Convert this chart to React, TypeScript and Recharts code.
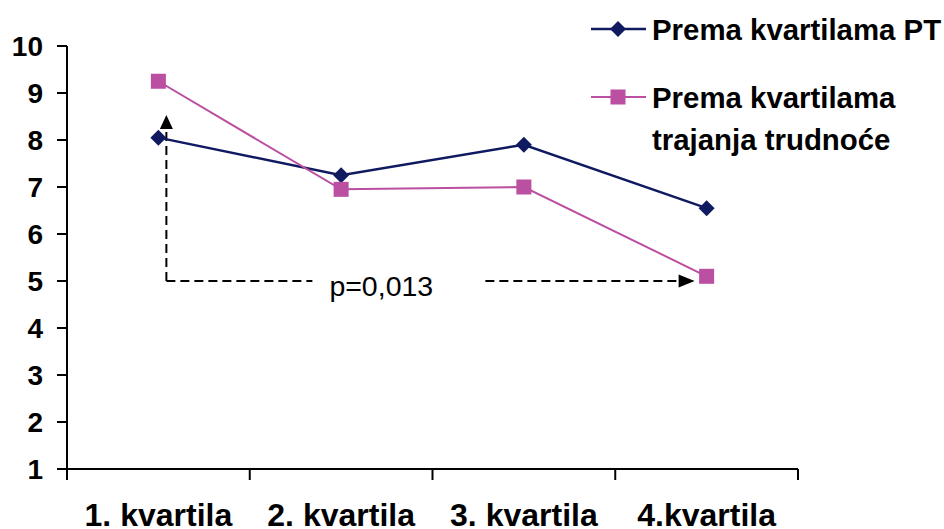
import React from 'react';
import { LineChart, Line, XAxis, YAxis, Legend, ReferenceLine } from 'recharts';

const categories = ['1. kvartila', '2. kvartila', '3. kvartila', '4.kvartila'];
const seriesPT = [8.05, 7.25, 7.9, 6.55];
const seriesTrajanje = [9.25, 6.95, 7.0, 5.1];
const yTicks = [1, 2, 3, 4, 5, 6, 7, 8, 9, 10];
const seriesNames = ['Prema kvartilama PT', 'Prema kvartilama trajanja trudnoće'];
const pLabel = 'p=0,013';

const data = categories.map((c, i) => ({ cat: c, pt: seriesPT[i], tr: seriesTrajanje[i] }));

const NAVY = '#101a60';
const PINK = '#bb4fa2';
const FONT = '"Liberation Sans", Arial, Helvetica, sans-serif';

const Diamond = (props: any) => {
  const { cx, cy } = props;
  if (cx == null || cy == null) return null;
  const s = 8;
  return <polygon points={`${cx},${cy - s} ${cx + s},${cy} ${cx},${cy + s} ${cx - s},${cy}`} fill={NAVY} />;
};

const Square = (props: any) => {
  const { cx, cy } = props;
  if (cx == null || cy == null) return null;
  const s = 7.5;
  return <rect x={cx - s} y={cy - s} width={2 * s} height={2 * s} fill={PINK} />;
};

const XTick = (props: any) => {
  const { x, y, payload, index, visibleTicksCount, width } = props;
  const bw = width / visibleTicksCount;
  return (
    <g>
      <line x1={x - bw / 2} y1={y} x2={x - bw / 2} y2={y + 11} stroke="#000" strokeWidth={2} />
      {index === visibleTicksCount - 1 && (
        <line x1={x + bw / 2} y1={y} x2={x + bw / 2} y2={y + 11} stroke="#000" strokeWidth={2} />
      )}
      <text x={x} y={y + 57} textAnchor="middle" fontFamily={FONT} fontWeight="bold" fontSize={32} fill="#000">
        {payload.value}
      </text>
    </g>
  );
};

const VArrow = (props: any) => {
  const { x1, y1, y2 } = props;
  const x = x1 + 8;
  return (
    <g>
      <line x1={x} y1={y1} x2={x} y2={y2 + 13} stroke="#000" strokeWidth={2} strokeDasharray="9 5" />
      <polygon points={`${x},${y2} ${x + 6.5},${y2 + 14} ${x - 6.5},${y2 + 14}`} fill="#000" />
    </g>
  );
};

const HArrow = (props: any) => {
  const { x1, y1, x2 } = props;
  const xs = x1 + 8;
  const tip = x2 - 12;
  return (
    <g>
      <line x1={xs} y1={y1} x2={x1 + 154} y2={y1} stroke="#000" strokeWidth={2} strokeDasharray="9 5" />
      <text x={x1 + 171} y={y1 + 15} fontFamily={FONT} fontSize={28.5} fill="#000">
        {pLabel}
      </text>
      <line x1={x1 + 327} y1={y1} x2={tip - 15} y2={y1} stroke="#000" strokeWidth={2} strokeDasharray="9 5" />
      <polygon points={`${tip},${y1} ${tip - 16},${y1 - 6.5} ${tip - 16},${y1 + 6.5}`} fill="#000" />
    </g>
  );
};

const LegendContent = () => (
  <svg width={944} height={160} style={{ display: 'block' }}>
    <line x1={591} y1={29} x2={646} y2={29} stroke={NAVY} strokeWidth={2.5} />
    <Diamond cx={618} cy={29} />
    <text x={652} y={40} fontFamily={FONT} fontWeight="bold" fontSize={29.4} fill="#000">
      {seriesNames[0]}
    </text>
    <line x1={591} y1={97} x2={646} y2={97} stroke={PINK} strokeWidth={2} />
    <Square cx={618} cy={97} />
    <text x={652} y={108} fontFamily={FONT} fontWeight="bold" fontSize={29.4} fill="#000">
      <tspan x={652}>Prema kvartilama</tspan>
      <tspan x={652} dy={42}>trajanja trudnoće</tspan>
    </text>
  </svg>
);

export default function App() {
  return (
    <div style={{ position: 'absolute', left: 0, top: 0, width: 944, height: 529, background: '#fff' }}>
      <LineChart
        width={944}
        height={529}
        data={data}
        margin={{ top: 46, right: 146, left: 0, bottom: 0 }}
      >
        <XAxis
          dataKey="cat"
          scale="band"
          height={60}
          axisLine={{ stroke: '#000', strokeWidth: 2 }}
          tickLine={false}
          tickSize={0}
          tickMargin={0}
          tick={<XTick />}
          interval={0}
        />
        <YAxis
          width={67}
          domain={[1, 10]}
          ticks={yTicks}
          allowDataOverflow
          axisLine={{ stroke: '#000', strokeWidth: 2 }}
          tickLine={{ stroke: '#000', strokeWidth: 2 }}
          tickSize={10}
          tickMargin={14}
          tick={{ fill: '#000', fontFamily: FONT, fontWeight: 'bold', fontSize: 28 }}
          interval={0}
        />
        <Legend
          layout="horizontal"
          verticalAlign="middle"
          align="center"
          content={<LegendContent />}
          wrapperStyle={{ position: 'absolute', left: 0, top: 0, width: 944, height: 160 }}
        />
        <ReferenceLine
          segment={[{ x: categories[0], y: 5 }, { x: categories[0], y: 8.53 }]}
          shape={(p: any) => <VArrow {...p} />}
        />
        <ReferenceLine
          segment={[{ x: categories[0], y: 5 }, { x: categories[3], y: 5 }]}
          shape={(p: any) => <HArrow {...p} />}
        />
        <Line
          type="linear"
          dataKey="pt"
          name={seriesNames[0]}
          stroke={NAVY}
          strokeWidth={2.5}
          dot={<Diamond />}
          activeDot={false}
          isAnimationActive={false}
        />
        <Line
          type="linear"
          dataKey="tr"
          name={seriesNames[1]}
          stroke={PINK}
          strokeWidth={2}
          dot={<Square />}
          activeDot={false}
          isAnimationActive={false}
        />
      </LineChart>
    </div>
  );
}
